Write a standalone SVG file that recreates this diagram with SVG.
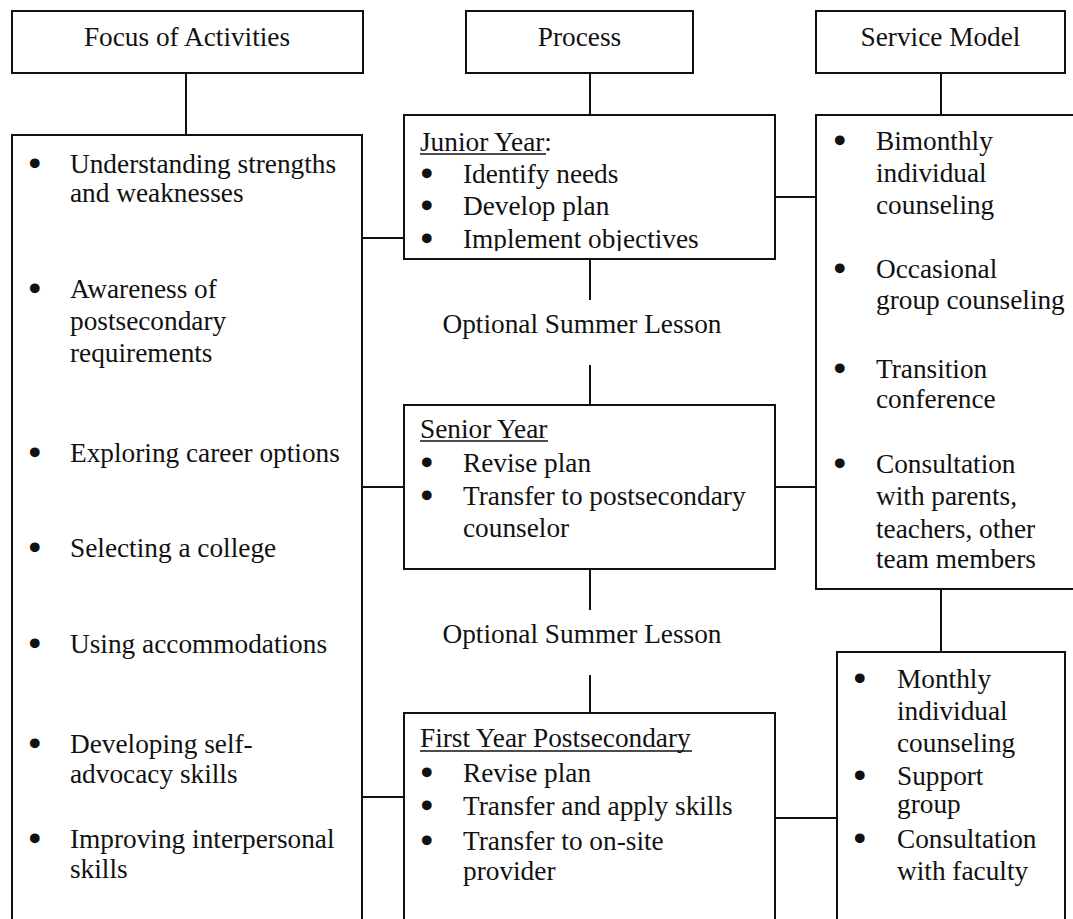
<svg xmlns="http://www.w3.org/2000/svg" width="1073" height="919" viewBox="0 0 1073 919">
<style>
rect{fill:#fff;stroke:#111;stroke-width:2}
.c line{stroke:#111;stroke-width:2}
text{font-family:"Liberation Serif","Times New Roman",serif;font-size:27.3px;fill:#111}
.m{text-anchor:middle}
.b{stroke:#111;stroke-width:3.2;stroke-linejoin:round}
.u{stroke:#111;stroke-width:1.6}
</style>
<defs>
<clipPath id="clipJ"><rect x="405" y="116" width="369" height="135" style="stroke:none"/></clipPath>
</defs>
<rect x="0" y="0" width="1073" height="919" style="stroke:none;fill:#fff"/>
<g class="c" id="connectors">
<line x1="186" y1="73" x2="186" y2="135"/>
<line x1="590" y1="73" x2="590" y2="115"/>
<line x1="941" y1="73" x2="941" y2="115"/>
<line x1="362" y1="238" x2="404" y2="238"/>
<line x1="775" y1="197" x2="816" y2="197"/>
<line x1="590" y1="259" x2="590" y2="300"/>
<line x1="590" y1="365" x2="590" y2="405"/>
<line x1="362" y1="487" x2="404" y2="487"/>
<line x1="775" y1="487" x2="816" y2="487"/>
<line x1="590" y1="569" x2="590" y2="610"/>
<line x1="590" y1="675" x2="590" y2="713"/>
<line x1="941" y1="589" x2="941" y2="652"/>
<line x1="362" y1="797" x2="404" y2="797"/>
<line x1="775" y1="818" x2="837" y2="818"/>
<text class="m" x="582" y="333">Optional Summer Lesson</text>
<text class="m" x="582" y="643">Optional Summer Lesson</text>
</g>
<g id="hdr-focus">
<rect x="12" y="11" width="351" height="62"/>
<text class="m" x="187" y="46">Focus of Activities</text>
</g>
<g id="hdr-process">
<rect x="466" y="11" width="227" height="62"/>
<text class="m" x="579.5" y="46">Process</text>
</g>
<g id="hdr-service">
<rect x="816" y="11" width="249" height="62"/>
<text class="m" x="940.5" y="46">Service Model</text>
</g>
<g id="focus-list">
<rect x="12" y="135" width="350" height="820"/>
<text y="173"><tspan class="b" x="30">•</tspan><tspan x="70">Understanding strengths</tspan></text>
<text x="70" y="202">and weaknesses</text>
<text y="298"><tspan class="b" x="30">•</tspan><tspan x="70">Awareness of</tspan></text>
<text x="70" y="330">postsecondary</text>
<text x="70" y="362">requirements</text>
<text y="462"><tspan class="b" x="30">•</tspan><tspan x="70">Exploring career options</tspan></text>
<text y="557"><tspan class="b" x="30">•</tspan><tspan x="70">Selecting a college</tspan></text>
<text y="653"><tspan class="b" x="30">•</tspan><tspan x="70">Using accommodations</tspan></text>
<text y="753"><tspan class="b" x="30">•</tspan><tspan x="70">Developing self-</tspan></text>
<text x="70" y="783">advocacy skills</text>
<text y="848"><tspan class="b" x="30">•</tspan><tspan x="70">Improving interpersonal</tspan></text>
<text x="70" y="878">skills</text>
</g>
<g id="junior-year">
<rect x="404" y="115" width="371" height="144"/>
<g clip-path="url(#clipJ)">
<text x="420" y="151">Junior Year:</text>
<line class="u" x1="420" y1="154" x2="546" y2="154"/>
<text y="183"><tspan class="b" x="422">•</tspan><tspan x="463">Identify needs</tspan></text>
<text y="215"><tspan class="b" x="422">•</tspan><tspan x="463">Develop plan</tspan></text>
<text y="248"><tspan class="b" x="422">•</tspan><tspan x="463">Implement objectives</tspan></text>
</g>
</g>
<g id="senior-year">
<rect x="404" y="405" width="371" height="164"/>
<text x="420" y="438">Senior Year</text>
<line class="u" x1="420" y1="441" x2="548" y2="441"/>
<text y="472"><tspan class="b" x="422">•</tspan><tspan x="463">Revise plan</tspan></text>
<text y="505"><tspan class="b" x="422">•</tspan><tspan x="463">Transfer to postsecondary</tspan></text>
<text x="463" y="537">counselor</text>
</g>
<g id="first-year">
<rect x="404" y="713" width="371" height="240"/>
<text x="420" y="747">First Year Postsecondary</text>
<line class="u" x1="420" y1="751" x2="692" y2="751"/>
<text y="782"><tspan class="b" x="422">•</tspan><tspan x="463">Revise plan</tspan></text>
<text y="815"><tspan class="b" x="422">•</tspan><tspan x="463">Transfer and apply skills</tspan></text>
<text y="850"><tspan class="b" x="422">•</tspan><tspan x="463">Transfer to on-site</tspan></text>
<text x="463" y="880">provider</text>
</g>
<g id="service-hs">
<rect x="816" y="115" width="270" height="474"/>
<text y="150"><tspan class="b" x="835">•</tspan><tspan x="876">Bimonthly</tspan></text>
<text x="876" y="182">individual</text>
<text x="876" y="214">counseling</text>
<text y="278"><tspan class="b" x="835">•</tspan><tspan x="876">Occasional</tspan></text>
<text x="876" y="309">group counseling</text>
<text y="378"><tspan class="b" x="835">•</tspan><tspan x="876">Transition</tspan></text>
<text x="876" y="408">conference</text>
<text y="473"><tspan class="b" x="835">•</tspan><tspan x="876">Consultation</tspan></text>
<text x="876" y="505">with parents,</text>
<text x="876" y="538">teachers, other</text>
<text x="876" y="568">team members</text>
</g>
<g id="service-college">
<rect x="837" y="652" width="228" height="300"/>
<text y="688"><tspan class="b" x="855">•</tspan><tspan x="897">Monthly</tspan></text>
<text x="897" y="720">individual</text>
<text x="897" y="752">counseling</text>
<text y="785"><tspan class="b" x="855">•</tspan><tspan x="897">Support</tspan></text>
<text x="897" y="813">group</text>
<text y="848"><tspan class="b" x="855">•</tspan><tspan x="897">Consultation</tspan></text>
<text x="897" y="880">with faculty</text>
</g>
</svg>
